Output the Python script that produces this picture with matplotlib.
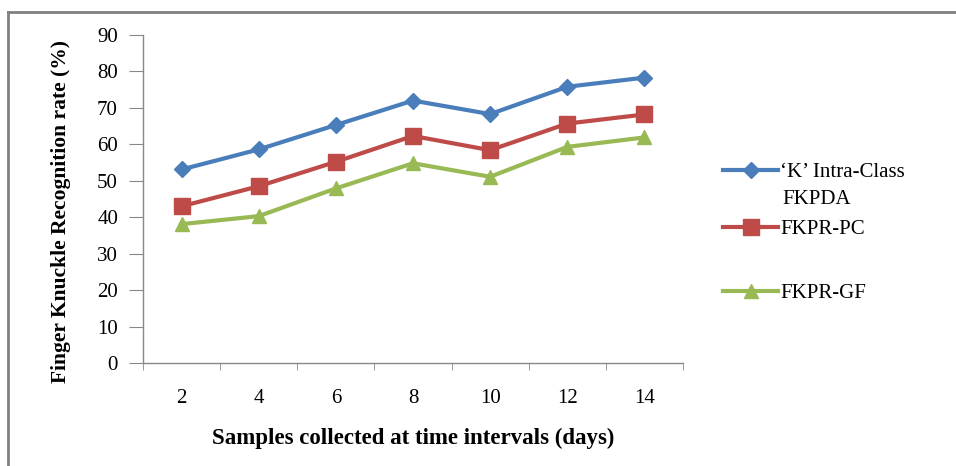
import matplotlib
matplotlib.use("Agg")
from matplotlib import pyplot as plt
from matplotlib.lines import Line2D
import numpy as np

plt.rcParams['font.family'] = ['Liberation Serif', 'DejaVu Serif']

# data
days = ['2', '4', '6', '8', '10', '12', '14']
k_intra_fkpda = [53.1, 58.6, 65.3, 72.0, 68.3, 75.8, 78.3]
fkpr_pc = [43.0, 48.5, 55.2, 62.3, 58.4, 65.7, 68.2]
fkpr_gf = [38.1, 40.3, 47.9, 54.8, 51.1, 59.3, 61.9]

W, H = 956, 466
fig = plt.figure(figsize=(W / 100, H / 100), dpi=100)
ax = fig.add_axes([143 / W, 1 - 363 / H, (683 - 143) / W, (363 - 35) / H])

x = np.arange(len(days))
l1, = ax.plot(x, k_intra_fkpda, color='#4A7EBB', marker='D', markersize=8, lw=3,
              label="\u2018K\u2019 Intra-Class")
l2, = ax.plot(x, fkpr_pc, color='#BE4B48', marker='s', markersize=11, lw=3,
              label='FKPR-PC')
l3, = ax.plot(x, fkpr_gf, color='#98B954', marker='^', markersize=10, lw=3,
              label='FKPR-GF')

ax.set_xlim(-0.5, len(days) - 0.5)
ax.set_ylim(0, 90)
ax.set_yticks(range(0, 91, 10))
ax.set_xticks(x)
ax.set_xticklabels(days)
ax.set_xticks(np.arange(-0.5, len(days), 1), minor=True)
ax.tick_params(axis='x', which='major', length=0, pad=19, labelsize=15)
ax.tick_params(axis='x', which='minor', length=5, color='#888888', direction='out')
ax.tick_params(axis='y', length=10, color='#888888', pad=8, labelsize=15)

for side in ['top', 'right']:
    ax.spines[side].set_visible(False)
for side in ['left', 'bottom']:
    ax.spines[side].set_color('#888888')
    ax.spines[side].set_linewidth(1.0)

ax.set_xlabel('Samples collected at time intervals (days)', fontsize=16.5,
              fontweight='bold', labelpad=14)
ax.set_ylabel('Finger Knuckle Recognition rate (%)', fontsize=15.5,
              fontweight='bold')
ax.yaxis.set_label_coords(-0.133, 0.463)

# legend entries placed one by one (uneven spacing in the reference)
for handle, ypix in [(l1, 172), (l2, 229), (l3, 293)]:
    fig.legend(handles=[handle], loc='center left', bbox_to_anchor=(723 / W, 1 - ypix / H),
               frameon=False, fontsize=15, handlelength=2.64, handletextpad=0.1,
               borderpad=0, borderaxespad=0)
fig.text(782 / W, 1 - 200 / H, 'FKPDA', fontsize=15, va='center', ha='left')

# outer frame (top and left edges only)
fig.add_artist(Line2D([8 / W, 1], [1 - 12 / H, 1 - 12 / H], transform=fig.transFigure,
                      color='#808080', lw=2))
fig.add_artist(Line2D([8 / W, 8 / W], [0, 1 - 12 / H], transform=fig.transFigure,
                      color='#808080', lw=2))

fig.savefig('out.png', dpi=100)
